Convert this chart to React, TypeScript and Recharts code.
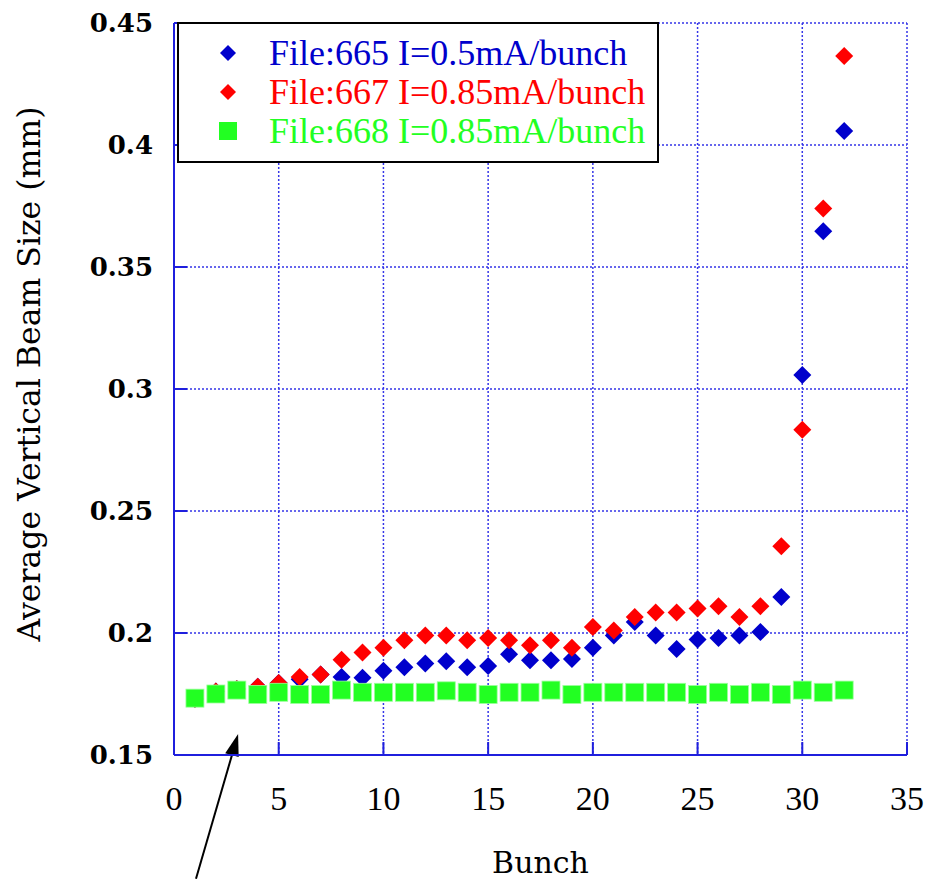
import { ScatterChart, Scatter, XAxis, YAxis, CartesianGrid, Legend, ReferenceLine } from "recharts";

const bunches = [1, 2, 3, 4, 5, 6, 7, 8, 9, 10, 11, 12, 13, 14, 15, 16, 17, 18, 19, 20, 21, 22, 23, 24, 25, 26, 27, 28, 29, 30, 31, 32];

const file665 = [
  0.173, 0.176, 0.177, 0.178, 0.1795, 0.181, 0.183, 0.182, 0.1817, 0.1845, 0.186, 0.1875, 0.1884, 0.186, 0.1865, 0.1913,
  0.1888, 0.1888, 0.1893, 0.194, 0.199, 0.2045, 0.199, 0.1934, 0.1973, 0.198, 0.199, 0.2004, 0.2148, 0.3057, 0.3647, 0.4057,
];
const file667 = [
  0.173, 0.176, 0.177, 0.178, 0.1795, 0.182, 0.183, 0.189, 0.192, 0.194, 0.197, 0.199, 0.199, 0.197, 0.198, 0.197,
  0.195, 0.197, 0.194, 0.2025, 0.201, 0.2066, 0.2084, 0.2084, 0.21, 0.211, 0.2066, 0.211, 0.2356, 0.2833, 0.374, 0.4365,
];
const file668 = [
  0.1733, 0.175, 0.1766, 0.1748, 0.1757, 0.1748, 0.1748, 0.1766, 0.1757, 0.1757, 0.1757, 0.1757, 0.1763, 0.1757, 0.1748, 0.1757,
  0.1757, 0.1766, 0.1748, 0.1757, 0.1757, 0.1757, 0.1757, 0.1757, 0.1748, 0.1757, 0.1748, 0.1757, 0.1748, 0.1766, 0.1757, 0.1766,
];

const xTicks = [0, 5, 10, 15, 20, 25, 30, 35];
const yTicks = [0.15, 0.2, 0.25, 0.3, 0.35, 0.4, 0.45];

// annotation arrow (tail, head) in data units
const arrowX = [1.05, 3.06];
const arrowY = [0.0993, 0.1586];

const legendItems = [
  { label: "File:665 I=0.5mA/bunch", color: "#0000cc", shape: "diamond" },
  { label: "File:667 I=0.85mA/bunch", color: "#ff0000", shape: "diamond" },
  { label: "File:668 I=0.85mA/bunch", color: "#22ff22", shape: "square" },
];

const toPoints = (vals: number[]) => bunches.map((b, i) => ({ x: b, y: vals[i] }));

const AXIS = "#1f1fdd";
const GRID = "#3535e8";
const TICK_LEN = 13;
const SERIF_WIDE = "'DejaVu Serif', 'Liberation Serif', serif";
const SERIF = "'Liberation Serif', serif";

const Diamond = (color: string) => (props: any) => {
  const { cx, cy } = props;
  const r = 9;
  return <polygon points={`${cx},${cy - r} ${cx + r},${cy} ${cx},${cy + r} ${cx - r},${cy}`} fill={color} />;
};

const Square = (props: any) => {
  const { cx, cy } = props;
  return <rect x={cx - 9} y={cy - 9} width={18} height={18} fill="#22ff22" stroke="#9bff9b" strokeWidth={0.8} />;
};

const BottomTick = (props: any) => {
  const { x, y, payload } = props;
  return (
    <g>
      <line x1={x} y1={y} x2={x} y2={y - TICK_LEN} stroke={AXIS} strokeWidth={2} />
      <text x={x} y={y + 55} textAnchor="middle" style={{ fontFamily: SERIF, fontSize: 34 }} fill="#000">
        {payload.value}
      </text>
    </g>
  );
};

const TopTick = (props: any) => {
  const { x, y } = props;
  return <line x1={x} y1={y} x2={x} y2={y + TICK_LEN} stroke={AXIS} strokeWidth={2} />;
};

const LeftTick = (props: any) => {
  const { x, y, payload } = props;
  return (
    <g>
      <line x1={x} y1={y} x2={x + TICK_LEN} y2={y} stroke={AXIS} strokeWidth={2} />
      <text x={x - 21} y={y + 9} textAnchor="end" style={{ fontFamily: SERIF_WIDE, fontWeight: "bold", fontSize: 26 }} fill="#000">
        {Number(payload.value.toFixed(2)).toString()}
      </text>
    </g>
  );
};

const RightTick = (props: any) => {
  const { x, y } = props;
  return <line x1={x} y1={y} x2={x - TICK_LEN} y2={y} stroke={AXIS} strokeWidth={2} />;
};

const Arrow = (props: any) => {
  const { x1, y1, x2, y2 } = props;
  const a = Math.atan2(y2 - y1, x2 - x1);
  const len = 22;
  const w = 7;
  const bx = x2 - len * Math.cos(a);
  const by = y2 - len * Math.sin(a);
  const px = -Math.sin(a) * w;
  const py = Math.cos(a) * w;
  return (
    <g>
      <line x1={x1} y1={y1} x2={bx} y2={by} stroke="#000" strokeWidth={2} />
      <polygon points={`${x2},${y2} ${bx + px},${by + py} ${bx - px},${by - py}`} fill="#000" />
    </g>
  );
};

const LegendBox = () => (
  <div style={{ width: 482, height: 141, border: "2px solid #000", boxSizing: "border-box", background: "#fff" }}>
    <svg width={478} height={137}>
      {legendItems.map((it, i) => {
        const cy = 29 + i * 39;
        return (
          <g key={it.label}>
            {it.shape === "diamond" ? (
              <polygon points={`49,${cy - 8} 57,${cy} 49,${cy + 8} 41,${cy}`} fill={it.color} />
            ) : (
              <rect x={40} y={cy - 9} width={18} height={18} fill={it.color} />
            )}
            <text x={90} y={cy + 12} style={{ fontFamily: SERIF, fontSize: 36 }} fill={it.color}>
              {it.label}
            </text>
          </g>
        );
      })}
    </svg>
  </div>
);

export default function App() {
  return (
    <div style={{ position: "absolute", left: 0, top: 0, width: 927, height: 879, background: "#fff" }}>
      <ScatterChart width={927} height={879} margin={{ top: 23, right: 20, bottom: 0, left: 0 }}>
        <CartesianGrid stroke={GRID} strokeDasharray="2 2" strokeWidth={1.5} />
        <XAxis
          type="number"
          dataKey="x"
          domain={[0, 35]}
          ticks={xTicks}
          height={124}
          tickSize={0}
          tickMargin={0}
          tickLine={false}
          axisLine={{ stroke: AXIS, strokeWidth: 2 }}
          tick={<BottomTick />}
          allowDataOverflow
          label={(p: any) => (
            <text
              x={p.viewBox.x + p.viewBox.width / 2}
              y={p.viewBox.y + 118}
              textAnchor="middle"
              style={{ fontFamily: SERIF_WIDE, fontSize: 30 }}
              fill="#000"
            >
              Bunch
            </text>
          )}
        />
        <XAxis
          xAxisId="top"
          orientation="top"
          type="number"
          dataKey="x"
          domain={[0, 35]}
          ticks={xTicks}
          height={0}
          tickSize={0}
          tickMargin={0}
          tickLine={false}
          axisLine={{ stroke: AXIS, strokeWidth: 2 }}
          tick={<TopTick />}
        />
        <YAxis
          type="number"
          dataKey="y"
          domain={[0.15, 0.45]}
          ticks={yTicks}
          width={174}
          tickSize={0}
          tickMargin={0}
          tickLine={false}
          axisLine={{ stroke: AXIS, strokeWidth: 2 }}
          tick={<LeftTick />}
          allowDataOverflow
          label={(p: any) => {
            const cx = p.viewBox.x + 29;
            const cy = p.viewBox.y + p.viewBox.height / 2 - 15;
            return (
              <text
                x={cx}
                y={cy}
                transform={`rotate(-90 ${cx} ${cy})`}
                textAnchor="middle"
                dominantBaseline="central"
                style={{ fontFamily: SERIF_WIDE, fontSize: 31.5 }}
                fill="#000"
              >
                Average Vertical Beam Size (mm)
              </text>
            );
          }}
        />
        <YAxis
          yAxisId="right"
          orientation="right"
          type="number"
          domain={[0.15, 0.45]}
          ticks={yTicks}
          width={0}
          tickSize={0}
          tickMargin={0}
          tickLine={false}
          axisLine={{ stroke: AXIS, strokeWidth: 2 }}
          tick={<RightTick />}
        />
        <Legend
          layout="vertical"
          align="center"
          verticalAlign="middle"
          content={() => <LegendBox />}
          wrapperStyle={{ left: 177, top: 22, width: 482, height: 141 }}
        />
        <Scatter name="File:665" data={toPoints(file665)} shape={Diamond("#0000cc")} isAnimationActive={false} />
        <Scatter name="File:667" data={toPoints(file667)} shape={Diamond("#ff0000")} isAnimationActive={false} />
        <Scatter name="File:668" data={toPoints(file668)} shape={Square} isAnimationActive={false} />
        <ReferenceLine
          segment={[
            { x: arrowX[0], y: arrowY[0] },
            { x: arrowX[1], y: arrowY[1] },
          ]}
          ifOverflow="visible"
          shape={Arrow}
        />
      </ScatterChart>
    </div>
  );
}
